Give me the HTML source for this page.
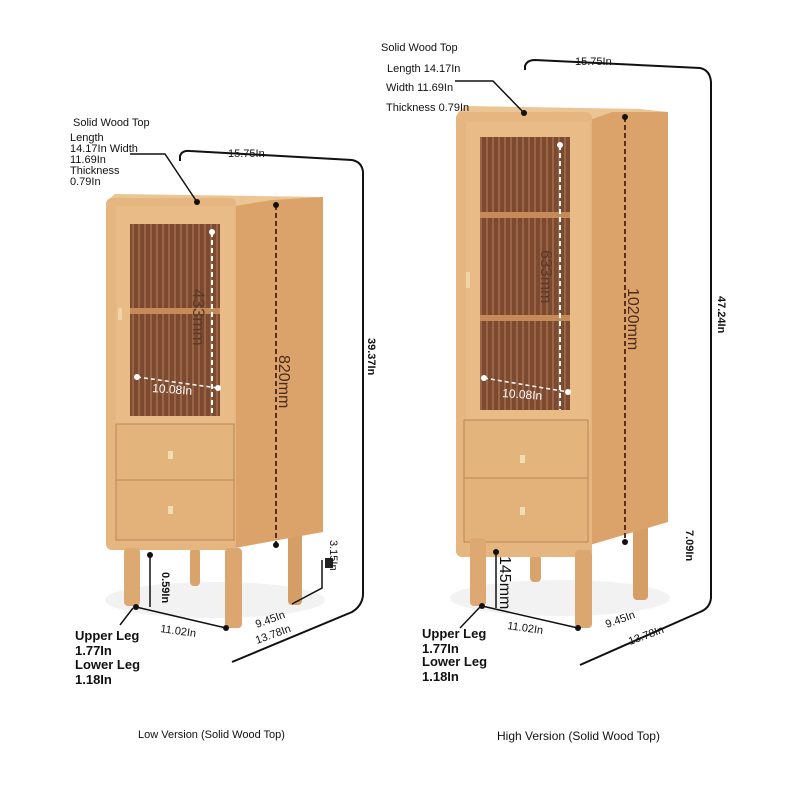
<!DOCTYPE html>
<html><head><meta charset="utf-8"><style>
html,body{margin:0;padding:0;background:#fff;}
svg{display:block}
text{font-family:"Liberation Sans",sans-serif;fill:#111}
</style></head><body>
<svg width="790" height="792" viewBox="0 0 790 792" xmlns="http://www.w3.org/2000/svg">
<defs>
<pattern id="rib" width="6" height="10" patternUnits="userSpaceOnUse">
<rect width="6" height="10" fill="#7b4a30"/><rect width="2" height="10" fill="#9a6445"/>
</pattern>
</defs>
<!-- ===== LEFT CABINET ===== -->
<g>
<ellipse cx="215" cy="600" rx="110" ry="18" fill="#f2f2f2"/>
<rect x="190" y="548" width="10" height="38" rx="4" fill="#d9a46c"/>
<rect x="288" y="530" width="14" height="75" rx="4" fill="#d59e66"/>
<polygon points="235,205 272,198 323,197 323,532 235,548" fill="#dba36a"/>
<polygon points="108,200 115,194 322,197 272,200 235,206 108,206" fill="#ecc594"/>
<rect x="106" y="198" width="130" height="352" rx="6" fill="#e6b680"/>
<rect x="116" y="206" width="118" height="230" fill="#e9bb86"/>
<rect x="130" y="224" width="90" height="192" fill="url(#rib)"/>
<rect x="130" y="308" width="90" height="6" fill="#c48a58"/>
<rect x="116" y="424" width="118" height="58" fill="#e4b47d" stroke="#b98555" stroke-width="1"/>
<rect x="116" y="480" width="118" height="60" fill="#e3b27b" stroke="#b98555" stroke-width="1"/>
<rect x="168" y="451" width="5" height="8" fill="#f1dcb3"/>
<rect x="168" y="506" width="5" height="8" fill="#f1dcb3"/>
<rect x="118" y="308" width="4" height="12" fill="#f0d4a6"/>
<rect x="124" y="548" width="16" height="58" rx="4" fill="#dda871"/>
<rect x="225" y="548" width="17" height="80" rx="4" fill="#dca670"/>
<line x1="212" y1="232" x2="212" y2="415" stroke="#fff" stroke-width="2" stroke-dasharray="5,3"/>
<circle cx="212" cy="232" r="3" fill="#fff"/>
<line x1="137" y1="377" x2="218" y2="388" stroke="#fff" stroke-width="1.5" stroke-dasharray="4,3"/>
<circle cx="137" cy="377" r="3" fill="#fff"/><circle cx="218" cy="388" r="3" fill="#fff"/>
<text x="152" y="392" font-size="12" style="fill:#fff" transform="rotate(4 152 392)">10.08In</text>
<text x="0" y="0" font-size="17" style="fill:#5a3a28" transform="translate(193,289) rotate(90)">433mm</text>
<line x1="276" y1="205" x2="276" y2="545" stroke="#5a2f1e" stroke-width="2" stroke-dasharray="5,3"/>
<circle cx="276" cy="205" r="3" fill="#111"/><circle cx="276" cy="545" r="3" fill="#111"/>
<text font-size="16" style="fill:#4a2c1c" transform="translate(279,355) rotate(90)">820mm</text>
</g>
<text x="73" y="126" font-size="11">Solid Wood Top</text>
<text x="70" y="141" font-size="11">Length</text>
<text x="70" y="152" font-size="11">14.17In Width</text>
<text x="70" y="163" font-size="11">11.69In</text>
<text x="70" y="174" font-size="11">Thickness</text>
<text x="70" y="185" font-size="11">0.79In</text>
<polyline points="130,154 165,154 197,202" fill="none" stroke="#111" stroke-width="1.5"/>
<circle cx="197" cy="202" r="3" fill="#111"/>
<path d="M180,161 L180,156 Q182,150 190,151 L352,160 Q362,162 363,172 L363,595 Q362,606 352,612 L232,662" fill="none" stroke="#111" stroke-width="2"/>
<text x="228" y="157" font-size="11">15.75In</text>
<text font-size="11" font-weight="bold" transform="translate(368,338) rotate(90)">39.37In</text>
<line x1="136" y1="607" x2="226" y2="628" stroke="#111" stroke-width="1.5"/>
<circle cx="136" cy="607" r="3" fill="#111"/><circle cx="226" cy="628" r="3" fill="#111"/>
<text x="160" y="632" font-size="11" transform="rotate(8 160 632)">11.02In</text>
<polyline points="292,604 322,588 322,560" fill="none" stroke="#111" stroke-width="1.5"/>
<rect x="325" y="558" width="8" height="10" fill="#222"/>
<text x="257" y="628" font-size="11" transform="rotate(-20 257 628)">9.45In</text>
<text x="257" y="644" font-size="11" transform="rotate(-20 257 644)">13.78In</text>
<text font-size="11" transform="translate(330,540) rotate(90)">3.15In</text>
<line x1="150" y1="555" x2="150" y2="607" stroke="#111" stroke-width="1.5"/>
<circle cx="150" cy="555" r="3" fill="#111"/>
<text font-size="11" font-weight="bold" transform="translate(162,572) rotate(90)">0.59In</text>
<polyline points="133,608 120,625" fill="none" stroke="#111" stroke-width="1.5"/>
<text x="75" y="640" font-size="13" font-weight="bold">Upper Leg</text>
<text x="75" y="655" font-size="13" font-weight="bold">1.77In</text>
<text x="75" y="669" font-size="13" font-weight="bold">Lower Leg</text>
<text x="75" y="684" font-size="13" font-weight="bold">1.18In</text>
<text x="138" y="738" font-size="11">Low Version (Solid Wood Top)</text>

<!-- ===== RIGHT CABINET ===== -->
<g>
<ellipse cx="560" cy="598" rx="110" ry="18" fill="#f2f2f2"/>
<rect x="530" y="555" width="11" height="27" rx="4" fill="#d9a46c"/>
<rect x="633" y="525" width="15" height="75" rx="4" fill="#d59e66"/>
<polygon points="590,118 612,110 668,112 668,522 590,545" fill="#dba36a"/>
<polygon points="458,112 466,106 640,109 668,112 612,112 590,120 458,120" fill="#ecc594"/>
<rect x="456" y="112" width="136" height="445" rx="6" fill="#e6b680"/>
<rect x="466" y="122" width="124" height="308" fill="#e9bb86"/>
<rect x="480" y="137" width="90" height="273" fill="url(#rib)"/>
<rect x="480" y="212" width="90" height="6" fill="#c48a58"/>
<rect x="480" y="315" width="90" height="6" fill="#c48a58"/>
<rect x="464" y="420" width="124" height="60" fill="#e4b47d" stroke="#b98555" stroke-width="1"/>
<rect x="464" y="478" width="124" height="64" fill="#e3b27b" stroke="#b98555" stroke-width="1"/>
<rect x="520" y="455" width="5" height="8" fill="#f1dcb3"/>
<rect x="520" y="507" width="5" height="8" fill="#f1dcb3"/>
<rect x="466" y="272" width="4" height="16" fill="#f0d4a6"/>
<rect x="470" y="538" width="16" height="68" rx="4" fill="#dda871"/>
<rect x="575" y="550" width="17" height="78" rx="4" fill="#dca670"/>
<line x1="560" y1="145" x2="560" y2="410" stroke="#fff" stroke-width="2" stroke-dasharray="5,3"/>
<circle cx="560" cy="145" r="3" fill="#fff"/>
<line x1="484" y1="378" x2="568" y2="392" stroke="#fff" stroke-width="1.5" stroke-dasharray="4,3"/>
<circle cx="484" cy="378" r="3" fill="#fff"/><circle cx="568" cy="392" r="3" fill="#fff"/>
<text x="502" y="397" font-size="12" style="fill:#fff" transform="rotate(4 502 397)">10.08In</text>
<text font-size="16" style="fill:#5a3a28" transform="translate(541,250) rotate(90)">633mm</text>
<line x1="625" y1="117" x2="625" y2="540" stroke="#5a2f1e" stroke-width="2" stroke-dasharray="5,3"/>
<circle cx="625" cy="117" r="3" fill="#111"/><circle cx="625" cy="542" r="3" fill="#111"/>
<text font-size="16" style="fill:#4a2c1c" transform="translate(628,288) rotate(90)">1020mm</text>
</g>
<text x="381" y="51" font-size="11">Solid Wood Top</text>
<text x="387" y="72" font-size="11">Length 14.17In</text>
<text x="386" y="91" font-size="11">Width 11.69In</text>
<text x="386" y="111" font-size="11">Thickness 0.79In</text>
<polyline points="455,81 493,81 524,113" fill="none" stroke="#111" stroke-width="1.5"/>
<circle cx="524" cy="113" r="3" fill="#111"/>
<path d="M525,70 L525,66 Q527,60 535,60 L700,68 Q710,70 711,82 L711,598 Q710,608 700,612 L580,665" fill="none" stroke="#111" stroke-width="2"/>
<text x="575" y="65" font-size="11">15.75In</text>
<text font-size="11" font-weight="bold" transform="translate(718,296) rotate(90)">47.24In</text>
<text font-size="11" font-weight="bold" transform="translate(686,530) rotate(90)">7.09In</text>
<line x1="482" y1="606" x2="578" y2="628" stroke="#111" stroke-width="1.5"/>
<circle cx="482" cy="606" r="3" fill="#111"/><circle cx="578" cy="628" r="3" fill="#111"/>
<line x1="496" y1="552" x2="496" y2="608" stroke="#111" stroke-width="1.5"/>
<circle cx="496" cy="552" r="3" fill="#111"/>
<text font-size="16" style="fill:#111" transform="translate(500,556) rotate(90)">145mm</text>
<text x="507" y="629" font-size="11" transform="rotate(8 507 629)">11.02In</text>
<text x="607" y="628" font-size="11" transform="rotate(-20 607 628)">9.45In</text>
<text x="630" y="645" font-size="11" transform="rotate(-20 630 645)">13.78In</text>
<line x1="480" y1="607" x2="460" y2="628" stroke="#111" stroke-width="1.5"/>
<text x="422" y="638" font-size="13" font-weight="bold">Upper Leg</text>
<text x="422" y="653" font-size="13" font-weight="bold">1.77In</text>
<text x="422" y="666" font-size="13" font-weight="bold">Lower Leg</text>
<text x="422" y="681" font-size="13" font-weight="bold">1.18In</text>
<text x="497" y="740" font-size="12">High Version (Solid Wood Top)</text>
</svg>
</body></html>
